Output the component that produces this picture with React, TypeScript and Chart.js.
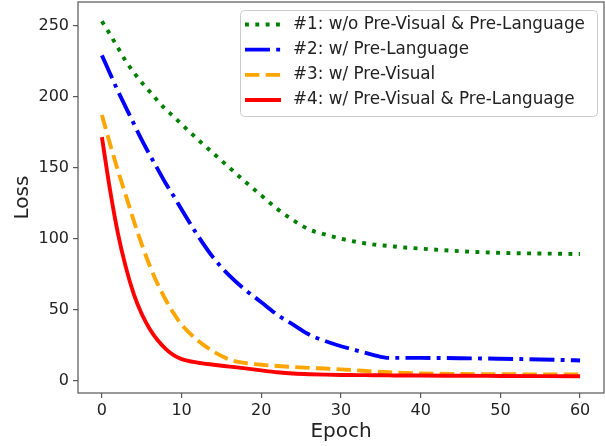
import React, { useEffect, useRef } from "react";
import { Chart, registerables } from "chart.js";

Chart.register(...registerables);

const epochs = [0, 1, 2, 3, 4, 5, 6, 7, 8, 9, 10, 12, 14, 16, 18, 20, 22, 24, 26, 28, 30, 32, 34, 36, 38, 40, 45, 50, 55, 60];
const lossNoPretrain = [253, 244, 234.5, 225, 217, 210, 203.5, 197, 191, 186, 180.5, 170, 160, 150, 140, 130.5, 121, 113, 106.5, 103, 100, 97.7, 96, 94.9, 93.8, 93, 91.2, 90, 89.6, 89.2];
const lossPreLanguage = [229, 216.5, 204, 192.5, 181, 169.5, 159, 149, 139, 130, 120.5, 102.5, 86.5, 74, 64, 55.3, 46.5, 39.5, 32.5, 28, 24.3, 21.3, 18.3, 16.1, 16.1, 16.1, 15.9, 15.5, 15, 14.3];
const lossPreVisual = [187, 167, 148, 130.5, 112.5, 96, 81, 68, 57, 47.5, 39.5, 28.5, 20.5, 15, 12.5, 11.3, 10.4, 9.7, 9.1, 8.6, 8, 7.3, 6.6, 6, 5.5, 5.1, 4.8, 4.6, 4.5, 4.4];
const lossPreBoth = [171.5, 135, 104, 80, 61, 47, 36.5, 28.5, 22.5, 18, 15.3, 12.8, 11.3, 10, 8.7, 7.3, 6, 5.1, 4.6, 4.3, 4.1, 4, 3.9, 3.8, 3.7, 3.7, 3.5, 3.4, 3.3, 3.2];

const xTickValues = [0, 10, 20, 30, 40, 50, 60];
const yTickValues = [0, 50, 100, 150, 200, 250];

const seriesLabels = [
  "#1: w/o Pre-Visual & Pre-Language",
  "#2: w/ Pre-Language",
  "#3: w/ Pre-Visual",
  "#4: w/ Pre-Visual & Pre-Language",
];
const seriesColors = ["#008000", "#0000ff", "#ffa500", "#ff0000"];
const seriesValues = [lossNoPretrain, lossPreLanguage, lossPreVisual, lossPreBoth];

const LW = 3.9;
const seriesDashes = [
  [LW, 1.65 * LW],
  [6.4 * LW, 1.6 * LW, LW, 1.6 * LW],
  [3.7 * LW, 1.6 * LW],
  [],
];

const FONT = "DejaVu Sans";

const framePlugin = {
  id: "frameAndLegend",
  afterDatasetsDraw(chart: any) {
    const { ctx, chartArea: a } = chart;
    ctx.save();
    ctx.strokeStyle = "#555555";
    ctx.lineWidth = 1.2;
    ctx.setLineDash([]);
    ctx.strokeRect(a.left, a.top, a.right - a.left, a.bottom - a.top);

    const bx = 240.5, by = 10.5, bw = 357, bh = 106;
    ctx.beginPath();
    (ctx as any).roundRect(bx, by, bw, bh, 4);
    ctx.fillStyle = "rgba(255,255,255,0.8)";
    ctx.fill();
    ctx.strokeStyle = "#cccccc";
    ctx.lineWidth = 1;
    ctx.stroke();

    ctx.font = `16.8px '${FONT}'`;
    ctx.textBaseline = "middle";
    ctx.textAlign = "left";
    for (let i = 0; i < seriesLabels.length; i++) {
      const y = 24.5 + i * 25.17;
      ctx.beginPath();
      ctx.setLineDash(seriesDashes[i]);
      ctx.lineDashOffset = 0;
      ctx.lineCap = "butt";
      ctx.strokeStyle = seriesColors[i];
      ctx.lineWidth = LW;
      ctx.moveTo(245, y);
      ctx.lineTo(281, y);
      ctx.stroke();
      ctx.setLineDash([]);
      ctx.fillStyle = "#222222";
      ctx.fillText(seriesLabels[i], 293, y);
    }
    ctx.restore();
  },
};

const zeroPadding = (s: any) => {
  s.paddingTop = 0;
  s.paddingBottom = 0;
  s.paddingLeft = 0;
  s.paddingRight = 0;
};

export default function App() {
  const canvasRef = useRef<HTMLCanvasElement | null>(null);

  useEffect(() => {
    document.body.style.margin = "0";
    const canvas = canvasRef.current;
    if (!canvas) return;
    const datasets = seriesValues.map((vals, i) => ({
      label: seriesLabels[i],
      data: epochs.map((e, j) => ({ x: e, y: vals[j] })),
      borderColor: seriesColors[i],
      backgroundColor: seriesColors[i],
      borderWidth: LW,
      borderDash: seriesDashes[i],
      borderCapStyle: "butt" as const,
      pointRadius: 0,
      fill: false,
      cubicInterpolationMode: "monotone" as const,
      order: 4 - i,
    }));

    const chart = new Chart(canvas, {
      type: "line",
      data: { datasets },
      options: {
        animation: false,
        responsive: false,
        layout: { padding: { top: 2, right: 1, left: 0, bottom: 0 } },
        plugins: {
          legend: { display: false },
          tooltip: { enabled: false },
        },
        scales: {
          x: {
            type: "linear",
            min: -3,
            max: 63,
            afterBuildTicks: (s: any) => {
              s.ticks = xTickValues.map((v) => ({ value: v }));
            },
            afterFit: (s: any) => {
              s.height = 53;
              zeroPadding(s);
            },
            grid: { drawOnChartArea: false, drawTicks: true, tickLength: 5, color: "#555555", lineWidth: 1.2 },
            border: { display: false },
            ticks: {
              font: { family: FONT, size: 16 },
              color: "#222222",
              padding: 3,
              maxRotation: 0,
              autoSkip: false,
            },
            title: {
              display: true,
              text: "Epoch",
              font: { family: FONT, size: 20 },
              color: "#222222",
              padding: { top: 0, bottom: 2 },
            },
          },
          y: {
            type: "linear",
            min: -8.6,
            max: 266.6,
            afterBuildTicks: (s: any) => {
              s.ticks = yTickValues.map((v) => ({ value: v }));
            },
            afterFit: (s: any) => {
              s.width = 78;
              zeroPadding(s);
            },
            grid: { drawOnChartArea: false, drawTicks: true, tickLength: 5, color: "#555555", lineWidth: 1.2 },
            border: { display: false },
            ticks: {
              font: { family: FONT, size: 16 },
              color: "#222222",
              padding: 4,
              autoSkip: false,
            },
            title: {
              display: true,
              text: "Loss",
              font: { family: FONT, size: 20 },
              color: "#222222",
              padding: { top: 11, bottom: 0 },
            },
          },
        },
      },
      plugins: [framePlugin],
    });
    return () => chart.destroy();
  }, []);

  return (
    <div style={{ position: "absolute", left: 0, top: 0, width: 605, height: 446 }}>
      <canvas ref={canvasRef} width={605} height={446} style={{ display: "block" }} />
    </div>
  );
}
